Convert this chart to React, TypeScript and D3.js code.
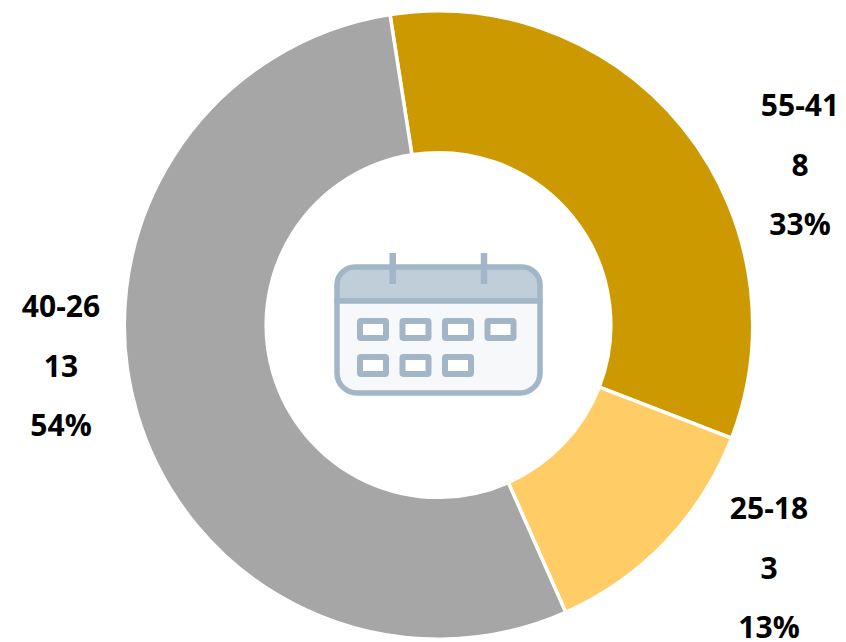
import React from "react";
import * as d3 from "d3";

const categories = ["55-41", "25-18", "40-26"];
const counts = [8, 3, 13];
const percents = ["33%", "13%", "54%"];
const colors = ["#cc9900", "#ffcc66", "#a6a6a6"];
const labelAnchors = [[800, 105], [769, 508], [61, 306]];
const cx = 438.5, cy = 325, R = 314.2, r = 172.3;

export default function App() {
  const start = -0.155;
  const pie = d3.pie<number>().value((d) => d).sort(null).startAngle(start).endAngle(2 * Math.PI + start);
  const arc = d3.arc<any>().innerRadius(r).outerRadius(R);
  const arcs = pie(counts);
  const cells = [0, 1, 2, 3];
  const cells2 = [0, 1, 2];
  return (
    <svg width={846} height={642} style={{ position: "fixed", left: 0, top: 0, background: "#fff" }} fontFamily="'Open Sans', sans-serif">
      <g transform={`translate(${cx},${cy})`}>
        {arcs.map((a, i) => (
          <path key={i} d={arc(a) as string} fill={colors[i]} stroke="#fff" strokeWidth={3.5} />
        ))}
      </g>
      <g stroke="#a3b6c8" fill="none">
        <path d="M337 301 V285 a18 18 0 0 1 18 -18 H522 a18 18 0 0 1 18 18 V301 Z" fill="#c0ced9" strokeWidth={5.5} />
        <path d="M337 301 H540 V373 a20 20 0 0 1 -20 20 H357 a20 20 0 0 1 -20 -20 Z" fill="#f7f8fa" strokeWidth={5.5} />
        <line x1={392.7} y1={253} x2={392.7} y2={284} strokeWidth={6.5} />
        <line x1={484} y1={253} x2={484} y2={284} strokeWidth={6.5} />
        {cells.map((c) => <rect key={c} x={360 + c * 42.5} y={321} width={26} height={17} rx={1} fill="#fff" strokeWidth={6} />)}
        {cells2.map((c) => <rect key={c} x={360 + c * 42.5} y={357} width={26} height={17} rx={1} fill="#fff" strokeWidth={6} />)}
      </g>
      {categories.map((c, i) => (
        <g key={c} textAnchor="middle" fontWeight={700} fontSize={30} fill="#000">
          <text x={labelAnchors[i][0]} y={labelAnchors[i][1] + 11}>{c}</text>
          <text x={labelAnchors[i][0]} y={labelAnchors[i][1] + 71}>{counts[i]}</text>
          <text x={labelAnchors[i][0]} y={labelAnchors[i][1] + 130}>{percents[i]}</text>
        </g>
      ))}
    </svg>
  );
}
